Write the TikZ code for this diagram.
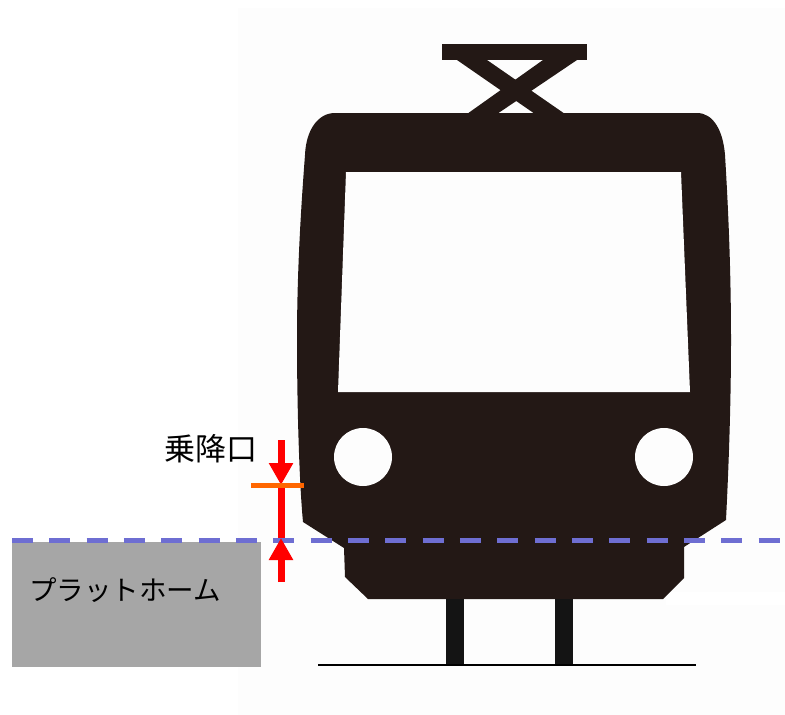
\documentclass[tikz,border=0pt]{standalone}
\usepackage{fontspec}
\newfontfamily\cjk{Noto Sans CJK JP}
\usetikzlibrary{arrows.meta}
\definecolor{trainbody}{HTML}{231815}
\definecolor{dashblue}{HTML}{6E6ED2}
\definecolor{doororange}{HTML}{FF6600}
\definecolor{paper}{HTML}{FDFDFD}
\begin{document}
\begin{tikzpicture}[x=1pt, y=-1pt, line join = round,
    gap/.style={line width=7pt, red, -{Triangle[length=22pt, width=23pt]}}]
\useasboundingbox (0,0) rectangle (785,715);

\coordinate (inTop) at (281,440);
\coordinate (doorLevel) at (281,485);
\coordinate (floorLevel) at (281,538);
\coordinate (inBottom) at (281,582);
\coordinate (doorL) at (251,485);
\coordinate (doorR) at (304,485);
\coordinate (dashL) at (12,540);
\coordinate (dashR) at (785,540);
\coordinate (railL) at (318,665);
\coordinate (railR) at (696,665);

\fill[white] (0,0) rectangle (785,715);
\fill[paper] (238,8) rectangle (785,715);
\fill[white] (666,592) rectangle (785,605);

% pantograph
\fill[trainbody] (442,44) rectangle (587,60);
\fill[trainbody] (457,60) -- (487,60) -- (565,114) -- (535,114) -- cycle;
\fill[trainbody] (543,60) -- (577,60) -- (497,114) -- (467,114) -- cycle;

% train
\fill[trainbody] (335,113) -- (697,113)
    .. controls (713,113) and (723,130) .. (725,155)
    .. controls (729,220) and (731,280) .. (731,340)
    .. controls (731,400) and (729,460) .. (726,520)
    -- (684,547) -- (684,578) -- (663,599) -- (368,599) -- (345,577) -- (344,548) -- (303,522)
    .. controls (299,480) and (297,400) .. (297,340)
    .. controls (297,280) and (300,220) .. (305,155)
    .. controls (306,130) and (318,113) .. (335,113) -- cycle;
\fill[paper] (346,172) -- (681,172) -- (690,392) -- (338,392) -- cycle;
\foreach \i in {363,664}
    \fill[paper] (\i,457) circle (29);

% wheels
\foreach \i in {446,555}
    \fill[black!92] (\i,599) rectangle (\i+18,665);
\draw[line width=2pt] (railL) -- (railR);

% platform
\node[fill=black!35, minimum width=249pt, minimum height=125pt, inner sep=0pt, anchor=north west] (platform) at (12,542) {};
\node[font=\cjk\fontsize{27.5pt}{30pt}\selectfont, anchor=west, inner sep=0pt] (platformLabel) at (29,590) {プラットホーム};
\node[font=\cjk\fontsize{31pt}{34pt}\selectfont, anchor=west, inner sep=0pt] (doorLabel) at (164,449) {乗降口};

\draw[dashblue, line width=5pt, dash pattern=on 21pt off 16.33pt] (dashL) -- (dashR);

\draw[red, line width=7pt] (doorLevel) -- (floorLevel);
\draw[gap] (inTop) -- (doorLevel);
\draw[gap] (inBottom) -- (floorLevel);
\draw[doororange, line width=5pt] (doorL) -- (doorR);

\end{tikzpicture}
\end{document}
